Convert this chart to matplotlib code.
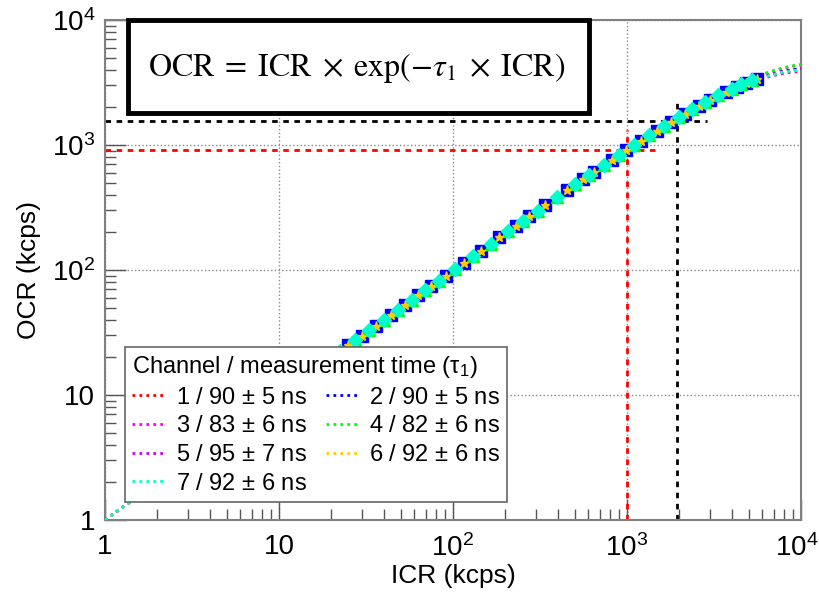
import numpy as np
import matplotlib
matplotlib.use('Agg')
import matplotlib.pyplot as plt
import matplotlib.transforms as mtransforms
from matplotlib.lines import Line2D
from matplotlib.patches import Rectangle
from matplotlib.ticker import LogLocator, FixedLocator, FixedFormatter, NullFormatter

plt.rcParams['font.family'] = ['Liberation Sans', 'DejaVu Sans']
plt.rcParams['mathtext.fontset'] = 'custom'
plt.rcParams['mathtext.rm'] = 'Liberation Sans'
plt.rcParams['mathtext.it'] = 'Liberation Sans:italic'

# channel info (fit results from legend)
channels = ['1', '2', '3', '4', '5', '6', '7']
tau_ns = [90, 90, 83, 82, 95, 92, 92]
tau_err = [5, 5, 6, 6, 7, 6, 6]
colors = ['#ff0000', '#0000ff', '#ff00ff', '#00ff00', '#cc00ff', '#ffcc00', '#00ffcc']
markers = ['o', 's', 'o', '^', 'v', '*', 'D']
msizes = [7.5, 8, 6, 8.5, 5, 6.5, 7]
sample_set = ['a', 'a', 'b', 'b', 'b', 'a', 'b']

icr_a = [10, 12.5, 16, 20, 25, 30, 36, 44, 53, 63, 75, 91, 115, 145, 185, 230,
         275, 340, 455, 560, 650, 820, 990, 1200, 1480, 1800, 2160, 2600, 3000,
         3700, 4300, 4800, 5600]
ocr_a = [9.99, 12.49, 15.98, 19.96, 24.94, 29.92, 35.88, 43.83, 52.75, 62.64, 74.5,
         90.26, 113.8, 143.1, 182.0, 225.3, 268.3, 329.7, 436.8, 532.4, 613.1, 761.7,
         905.6, 1077, 1295, 1531, 1778, 2058, 2290, 2652, 2920, 3116, 3383]
icr_b = [11, 14, 18, 22.5, 27.5, 33, 40, 48, 58, 69, 83, 103, 130, 165, 207, 252,
         307, 395, 505, 605, 735, 905, 1095, 1340, 1640, 1980, 2380, 2800, 3350,
         4000, 4550, 5200]
ocr_b = [10.99, 13.98, 17.97, 22.46, 27.43, 32.91, 39.86, 47.8, 57.71, 68.59, 82.4,
         102.1, 128.5, 162.6, 203.3, 246.5, 298.9, 381.7, 483.3, 574.0, 689.5, 836.5,
         995.5, 1192.5, 1422, 1667, 1935, 2195, 2503, 2825, 3063, 3308]
samples = {'a': (icr_a, ocr_a), 'b': (icr_b, ocr_b)}

# guide lines
red_icr, red_ocr = 1000, 912
red_h_end, red_v_end = 1490, 1320
blk_icr, blk_ocr = 1950, 1550
blk_h_end, blk_v_end = 2900, 2380

fig = plt.figure(figsize=(8.2, 5.93), dpi=100)
ax = fig.add_axes([0.128, 0.1231, 0.8488, 0.8432])
ax.set_xscale('log')
ax.set_yscale('log')
ax.set_xlim(1, 1e4)
ax.set_ylim(1, 1e4)

ax.grid(which='major', ls=':', color='#888888', lw=1, zorder=0)

ax.plot([1, red_h_end], [red_ocr, red_ocr], ls=(0, (2, 2)), color='#ff0000', lw=2, zorder=2)
ax.plot([red_icr, red_icr], [1, red_v_end], ls=(0, (2, 2)), color='#ff0000', lw=2, zorder=2)
ax.plot([1, blk_h_end], [blk_ocr, blk_ocr], ls=(0, (2, 2)), color='black', lw=2, zorder=2)
ax.plot([blk_icr, blk_icr], [1, blk_v_end], ls=(0, (2, 2)), color='black', lw=2, zorder=2)

# fit curves OCR = ICR*exp(-tau*ICR)
icr_fit = np.logspace(0, 4, 400)
handles = []
for i in range(len(channels)):
    k = tau_ns[i] * 1e-6
    ax.plot(icr_fit, icr_fit * np.exp(-k * icr_fit), ls=(0, (1, 1.5)), color=colors[i], lw=2, zorder=3)
    xs, ys = samples[sample_set[i]]
    ax.plot(xs, ys, ls='none', marker=markers[i], ms=msizes[i],
            color=colors[i], mec=colors[i], zorder=4)
    handles.append(Line2D([], [], ls=(0, (1, 1.5)), color=colors[i], lw=2))

labels = [f'{channels[i]} / {tau_ns[i]} $\\pm$ {tau_err[i]} ns' for i in range(len(channels))]
order = [0, 2, 4, 6, 1, 3, 5]
leg = fig.legend([handles[i] for i in order], [labels[i] for i in order],
                 title='Channel / measurement time ($\\mathrm{\\tau}_{1}$)',
                 ncol=2, loc='upper left', bbox_to_anchor=(125 / 820, 1 - 347 / 593),
                 borderaxespad=0, fontsize=17, title_fontsize=17, fancybox=False,
                 framealpha=1, edgecolor='#666666', handlelength=1.4, handletextpad=0.45,
                 columnspacing=0.8, labelspacing=0.28, borderpad=0.3)
leg.get_frame().set_linewidth(1.2)
leg._legend_box.align = 'left'
leg.set_zorder(10)

# formula box
box = Rectangle((128 / 820, 1 - 113 / 593), (589 - 128) / 820, (113 - 20) / 593,
                transform=fig.transFigure, facecolor='white', edgecolor='black', lw=3.5, zorder=11)
fig.patches.append(box)
fig.text(0.435, 0.886,
         r'$\mathrm{OCR}\;=\;\mathrm{ICR}\;\times\;\exp(-\tau_1\;\times\;\mathrm{ICR})$',
         math_fontfamily='stix', fontsize=23, ha='center', va='center', zorder=12)

ax.xaxis.set_major_locator(FixedLocator([1, 10, 100, 1000, 10000]))
ax.xaxis.set_major_formatter(FixedFormatter(['1', '10', r'$\mathdefault{10^{2}}$',
                                             r'$\mathdefault{10^{3}}$', r'$\mathdefault{10^{4}}$']))
ax.yaxis.set_major_locator(FixedLocator([1, 10, 100, 1000, 10000]))
ax.yaxis.set_major_formatter(FixedFormatter(['1', '10', r'$\mathdefault{10^{2}}$',
                                             r'$\mathdefault{10^{3}}$', r'$\mathdefault{10^{4}}$']))
for a in (ax.xaxis, ax.yaxis):
    a.set_minor_locator(LogLocator(base=10, subs=np.arange(2, 10)))
    a.set_minor_formatter(NullFormatter())

ax.tick_params(which='major', direction='in', length=15, width=1, color='#555555',
               labelsize=20, top=False, right=False)
ax.tick_params(axis='x', which='major', pad=10)
ax.tick_params(axis='y', which='major', pad=7)
ax.tick_params(which='minor', direction='in', length=8, width=1, color='#555555',
               top=False, right=False)
for s in ax.spines.values():
    s.set_color('#808080')
    s.set_linewidth(1.5)

# nudge the last x tick label so it stays inside the canvas
fig.canvas.draw()
shift = mtransforms.ScaledTranslation(-4 / 100, 0, fig.dpi_scale_trans)
lab = ax.get_xticklabels()[-1]
lab.set_transform(lab.get_transform() + shift)

ax.set_xlabel('ICR (kcps)', fontsize=19, labelpad=2)
ax.set_ylabel('OCR (kcps)', fontsize=19, labelpad=8)

fig.savefig('out.png', dpi=100)
